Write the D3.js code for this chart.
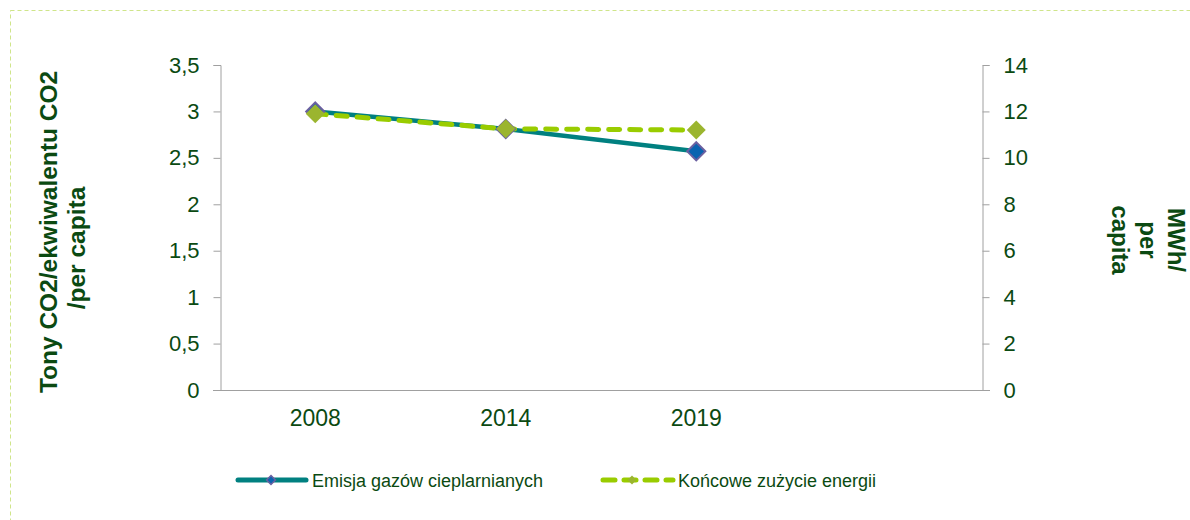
<!DOCTYPE html>
<html>
<head>
<meta charset="utf-8">
<script src="https://cdn.jsdelivr.net/npm/d3@7"></script>
<style>
  body { margin: 0; background: #fff; }
  text { font-family: "Liberation Sans", Arial, sans-serif; fill: #0b4a12; }
</style>
</head>
<body>
<svg width="1190" height="520"></svg>
<script>
const years = ['2008', '2014', '2019', '']
const emisja = [3.0, 2.81, 2.57]
const energia = [11.9, 11.25, 11.2]
const leftTicks = [0, 0.5, 1, 1.5, 2, 2.5, 3, 3.5]
const rightTicks = [0, 2, 4, 6, 8, 10, 12, 14]
const seriesNames = ['Emisja gazów cieplarnianych', 'Końcowe zużycie energii']

const margin = {top: 65, right: 208, bottom: 130, left: 220}
const width = 1190
const height = 520

const svg = d3.select('svg')

svg.append('rect')
  .attr('x', 10.5).attr('y', 10.5)
  .attr('width', 1185).attr('height', 520)
  .attr('fill', 'none')
  .attr('stroke', '#cfe58a')
  .attr('stroke-width', 1)
  .attr('stroke-dasharray', '4,3')

const x = d3.scaleBand()
  .domain(years)
  .range([margin.left, width - margin.right])

const yL = d3.scaleLinear()
  .domain([0, 3.5])
  .range([height - margin.bottom, margin.top])

const yR = d3.scaleLinear()
  .domain([0, 14])
  .range([height - margin.bottom, margin.top])

const fmt = d => String(d).replace('.', ',')
const axisColor = '#a0a0a0'

// bottom axis line
svg.append('line')
  .attr('x1', margin.left - 7).attr('x2', width - margin.right + 8)
  .attr('y1', yL(0) + 0.5).attr('y2', yL(0) + 0.5)
  .attr('stroke', axisColor)

const xAxis = g => g
  .attr('transform', `translate(0, ${yL(0)})`)
  .call(d3.axisBottom(x).tickSize(0).tickPadding(20))
  .call(g => g.select('.domain').remove())
  .call(g => g.selectAll('text').attr('font-size', 23))

const yAxisL = g => g
  .attr('transform', `translate(${margin.left + 0.5}, 0)`)
  .call(d3.axisLeft(yL).tickValues(leftTicks).tickFormat(fmt).tickSize(7).tickPadding(14))
  .call(g => g.select('.domain').attr('stroke', axisColor))
  .call(g => g.selectAll('.tick line').attr('stroke', axisColor))
  .call(g => g.selectAll('text').attr('font-size', 22))

const yAxisR = g => g
  .attr('transform', `translate(${width - margin.right + 0.5}, 0)`)
  .call(d3.axisRight(yR).tickValues(rightTicks).tickSize(7).tickPadding(14))
  .call(g => g.select('.domain').attr('stroke', axisColor))
  .call(g => g.selectAll('.tick line').attr('stroke', axisColor))
  .call(g => g.selectAll('text').attr('font-size', 22))

svg.append('g').call(xAxis)
svg.append('g').call(yAxisL)
svg.append('g').call(yAxisR)

const cx = d => x(d) + x.bandwidth() / 2

// lines
const lineL = d3.line().x((d, i) => cx(years[i])).y(d => yL(d))
const lineR = d3.line().x((d, i) => cx(years[i])).y(d => yR(d))

svg.append('path')
  .datum(emisja)
  .attr('d', lineL)
  .attr('fill', 'none')
  .attr('stroke', '#008080')
  .attr('stroke-width', 4.5)

svg.append('path')
  .datum(energia)
  .attr('d', lineR)
  .attr('fill', 'none')
  .attr('stroke', '#99cc00')
  .attr('stroke-width', 5)
  .attr('stroke-linecap', 'round')
  .attr('stroke-dasharray', '11,10')

const diamond = d3.symbol().type(d3.symbolDiamond2)

svg.append('g').selectAll('path')
  .data(emisja)
  .join('path')
  .attr('d', diamond.size(210))
  .attr('transform', (d, i) => `translate(${cx(years[i])},${yL(d)})`)
  .attr('fill', '#0a63b0')
  .attr('stroke', '#6b60a0')
  .attr('stroke-width', 2)

svg.append('g').selectAll('path')
  .data(energia)
  .join('path')
  .attr('d', diamond.size(230))
  .attr('transform', (d, i) => `translate(${cx(years[i])},${yR(d)})`)
  .attr('fill', '#9bb52f')

// axis titles
svg.append('text')
  .attr('transform', 'translate(57, 232) rotate(-90)')
  .attr('text-anchor', 'middle')
  .attr('font-size', 24.5)
  .attr('font-weight', 'bold')
  .text('Tony CO2/ekwiwalentu CO2')

svg.append('text')
  .attr('transform', 'translate(85, 248) rotate(-90)')
  .attr('text-anchor', 'middle')
  .attr('font-size', 24.5)
  .attr('font-weight', 'bold')
  .text('/per capita')

const rightTitle = ['MWh/', 'per', 'capita']
svg.append('g').selectAll('text')
  .data(rightTitle)
  .join('text')
  .attr('transform', (d, i) => `translate(${1168 - i * 28}, 240) rotate(90)`)
  .attr('text-anchor', 'middle')
  .attr('font-size', 24)
  .attr('font-weight', 'bold')
  .text(d => d)

// legend
const leg = svg.append('g').attr('transform', 'translate(0, 480)')

leg.append('line')
  .attr('x1', 238).attr('x2', 306).attr('y1', 0).attr('y2', 0)
  .attr('stroke', '#008080').attr('stroke-width', 5).attr('stroke-linecap', 'round')
leg.append('path')
  .attr('d', diamond.size(50))
  .attr('transform', 'translate(271,0)')
  .attr('fill', '#0a63b0').attr('stroke', '#6b60a0').attr('stroke-width', 1.5)
leg.append('text')
  .attr('x', 312).attr('y', 6.5)
  .attr('font-size', 18)
  .text(seriesNames[0])

leg.append('line')
  .attr('x1', 603).attr('x2', 673).attr('y1', 0).attr('y2', 0)
  .attr('stroke', '#99cc00').attr('stroke-width', 5).attr('stroke-linecap', 'round')
  .attr('stroke-dasharray', '12,9')
leg.append('path')
  .attr('d', diamond.size(50))
  .attr('transform', 'translate(632,0)')
  .attr('fill', '#9bb52f')
leg.append('text')
  .attr('x', 678).attr('y', 6.5)
  .attr('font-size', 18)
  .text(seriesNames[1])
</script>
</body>
</html>
